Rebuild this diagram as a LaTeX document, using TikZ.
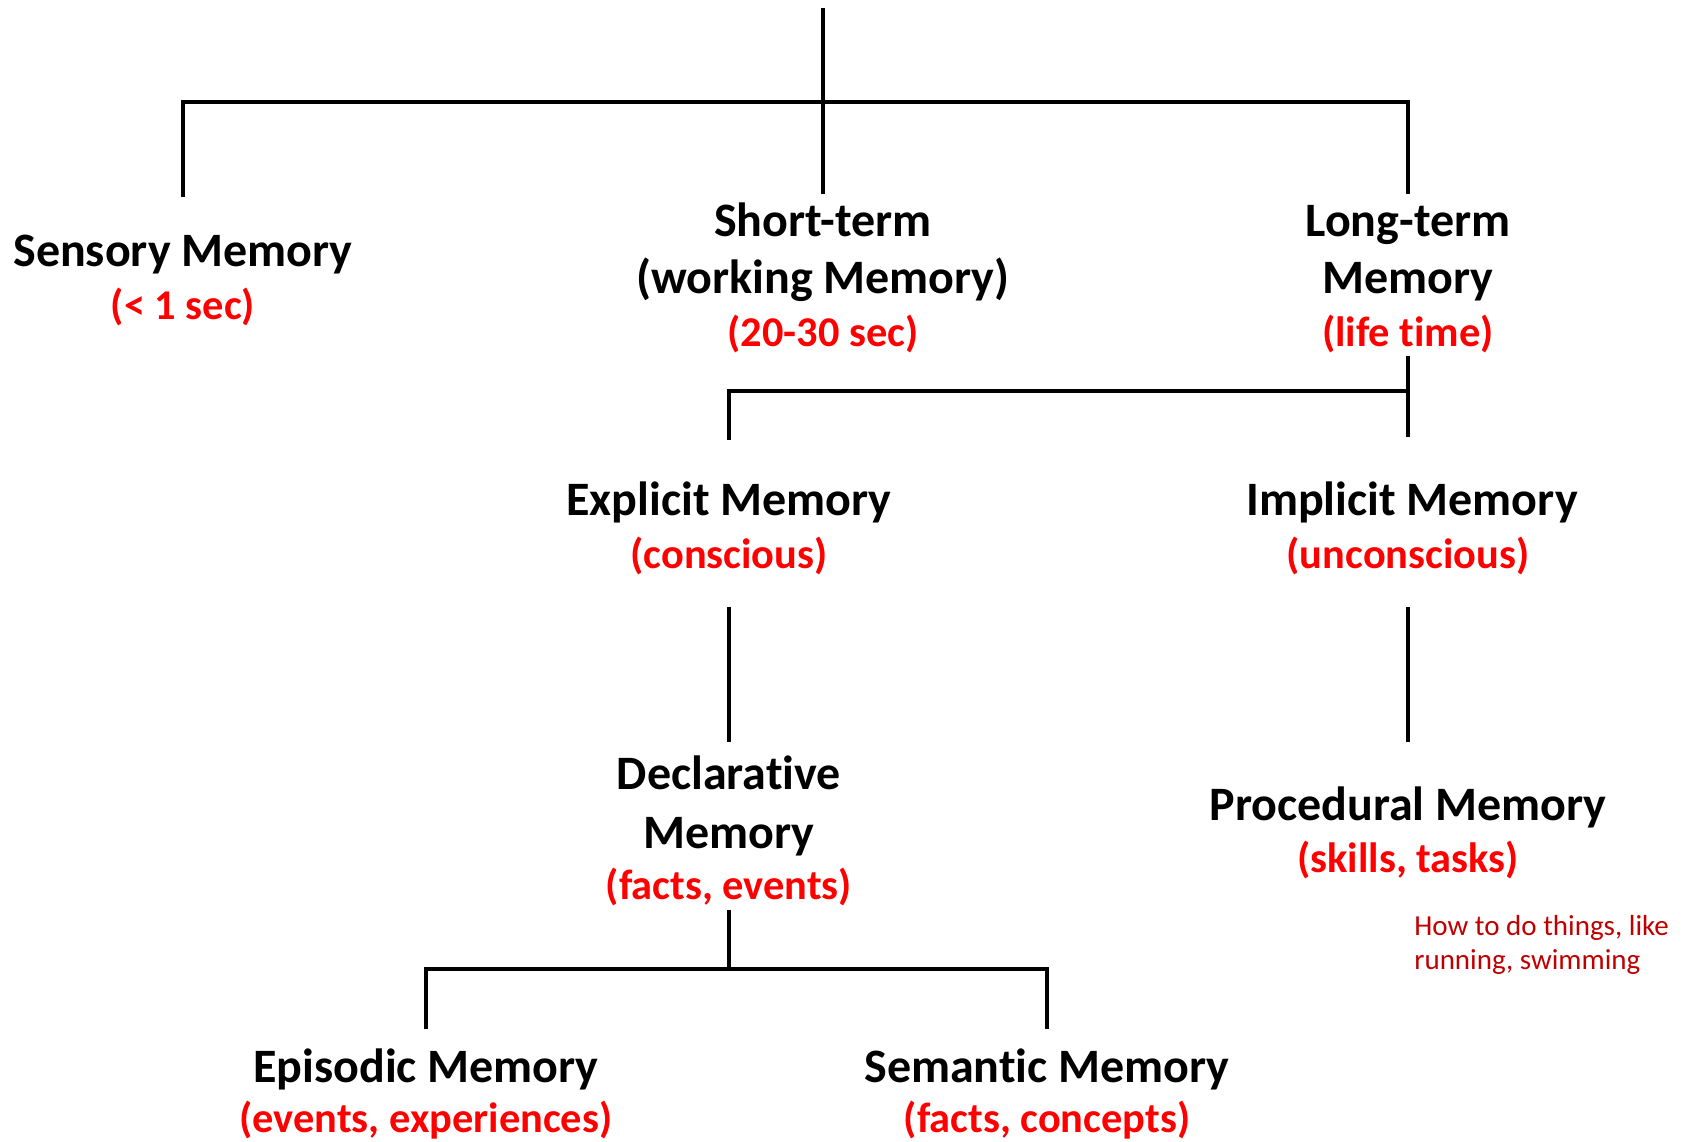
\documentclass[tikz,border=0pt]{standalone}
\usepackage{fontspec}
\setmainfont{Carlito}[RawFeature={-liga;-dlig}]
\definecolor{lblred}{RGB}{255,0,0}
\definecolor{notered}{RGB}{192,0,0}
\begin{document}
\begin{tikzpicture}[x=0.5pt,y=-0.5pt,
  link/.style={line width=2.3pt, line join=miter},
  title/.style={font=\fontsize{24}{28}\selectfont\bfseries, anchor=base, inner sep=0pt},
  sub/.style={font=\fontsize{21.2}{25}\selectfont\bfseries, text=lblred, anchor=base, inner sep=0pt},
  note/.style={font=\fontsize{14.5}{17}\selectfont, text=notered, anchor=base west, inner sep=0pt}]
\useasboundingbox[fill=white] (0,0) rectangle (1690,1141);

% top level
\node[title] (sen1) at (183,266) {Sensory Memory};
\node[sub]   (sen2) at (183,319) {(< 1 sec)};
\node[title] (st1) at (823,236) {Short-term};
\node[title] (st2) at (823,293) {(working Memory)};
\node[sub]   (st3) at (823,346) {(20-30 sec)};
\node[title] (lt1) at (1408,236) {Long-term};
\node[title] (lt2) at (1408,293) {Memory};
\node[sub]   (lt3) at (1408,346) {(life time)};

% long-term branches
\node[title] (ex1) at (729,515) {Explicit Memory};
\node[sub]   (ex2) at (729,568) {(conscious)};
\node[title] (im1) at (1412,515) {Implicit Memory};
\node[sub]   (im2) at (1408,568) {(unconscious)};

\node[title] (de1) at (729,789) {Declarative};
\node[title] (de2) at (729,848) {Memory};
\node[sub]   (de3) at (729,899) {(facts, events)};
\node[title] (pr1) at (1408,820) {Procedural Memory};
\node[sub]   (pr2) at (1408,872) {(skills, tasks)};
\node[note]  (pn1) at (1414,935) {How to do things, like};
\node[note]  (pn2) at (1414,969) {running, swimming};

\node[title] (ep1) at (426,1082) {Episodic Memory};
\node[sub]   (ep2) at (426,1132) {(events, experiences)};
\node[title] (se1) at (1047,1082) {Semantic Memory};
\node[sub]   (se2) at (1047,1132) {(facts, concepts)};

% junction and end points of the tree lines
\coordinate (root) at (823,8);
\coordinate (rootBar) at (823,102);
\coordinate (senTop) at (183,197);
\coordinate (stTop) at (823,194);
\coordinate (ltTop) at (1408,194);
\coordinate (ltBot) at (1408,356);
\coordinate (ltBar) at (1408,391);
\coordinate (imTop) at (1408,437);
\coordinate (exTop) at (729,440);
\coordinate (exBot) at (729,607);
\coordinate (deTop) at (729,742);
\coordinate (imBot) at (1408,607);
\coordinate (prTop) at (1408,742);
\coordinate (deBot) at (729,910);
\coordinate (deBar) at (729,969);
\coordinate (epTop) at (426,1029);
\coordinate (seTop) at (1047,1029);

\draw[link] (root) -- (stTop);
\draw[link] (senTop) |- (rootBar) -| (ltTop);
\draw[link] (ltBot) -- (imTop);
\draw[link] (exTop) |- (ltBar);
\draw[link] (exBot) -- (deTop);
\draw[link] (imBot) -- (prTop);
\draw[link] (deBot) -- (deBar);
\draw[link] (epTop) |- (deBar) -| (seTop);
\end{tikzpicture}
\end{document}
